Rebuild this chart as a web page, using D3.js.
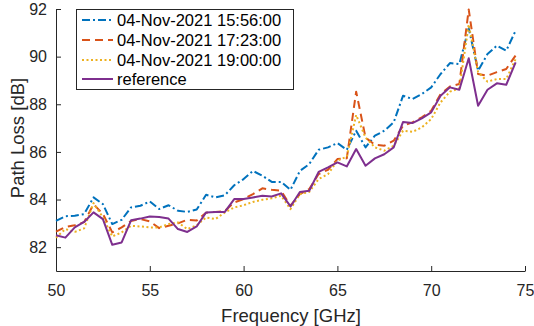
<!DOCTYPE html>
<html>
<head>
<meta charset="utf-8">
<script src="https://cdn.jsdelivr.net/npm/d3@7"></script>
<style>
  html, body { margin: 0; padding: 0; background: #fff; }
  svg { display: block; font-family: "Liberation Sans", Arial, Helvetica, sans-serif; }
</style>
</head>
<body>
<svg id="chart" width="534" height="326"></svg>
<script>
const freqGHz = [50, 50.5, 51, 51.5, 52, 52.5, 53, 53.5, 54, 54.5,
  55, 55.5, 56, 56.5, 57, 57.5, 58, 58.5, 59, 59.5,
  60, 60.5, 61, 61.5, 62, 62.5, 63, 63.5, 64, 64.5,
  65, 65.5, 66, 66.5, 67, 67.5, 68, 68.5, 69, 69.5,
  70, 70.5, 71, 71.5, 72, 72.5, 73, 73.5, 74, 74.5];

const seriesNames = ["04-Nov-2021 15:56:00", "04-Nov-2021 17:23:00", "04-Nov-2021 19:00:00", "reference"];

const loss1556 = [83.1, 83.3, 83.32, 83.39, 84.09, 83.81, 82.97, 83.15, 83.67, 83.74,
  83.92, 83.6, 83.76, 83.53, 83.48, 83.58, 84.2, 84.09, 84.18, 84.6,
  84.86, 85.2, 85.0, 84.74, 84.74, 84.41, 85.2, 85.49, 86.09, 86.19,
  86.37, 86.09, 86.89, 86.19, 86.68, 86.89, 87.24, 88.36, 88.22, 88.43,
  88.71, 89.27, 89.73, 89.69, 91.19, 89.41, 90.11, 90.46, 90.25, 91.09];

const loss1723 = [82.65, 82.85, 82.92, 83.05, 83.8, 83.4, 82.62, 82.83, 83.1, 83.18,
  83.08, 82.8, 82.9, 83.0, 83.15, 83.12, 83.45, 83.48, 83.52, 83.88,
  84.02, 84.23, 84.47, 84.41, 84.37, 83.74, 84.23, 84.44, 85.07, 85.25,
  85.7, 85.73, 88.53, 86.6, 86.3, 86.26, 86.47, 87.1, 87.24, 87.45,
  87.73, 88.43, 88.75, 88.85, 91.98, 89.27, 89.2, 89.35, 89.48, 90.05];

const loss1900 = [82.4, 82.76, 82.64, 82.79, 83.85, 83.25, 82.45, 82.62, 82.9, 82.87,
  82.83, 82.83, 82.97, 83.04, 82.76, 82.92, 83.25, 83.18, 83.46, 83.67,
  83.76, 83.9, 83.99, 84.05, 84.16, 83.6, 84.23, 84.32, 84.86, 85.07,
  85.63, 85.8, 87.55, 86.6, 86.19, 86.05, 86.26, 86.89, 86.84, 87.03,
  87.38, 88.08, 88.53, 88.67, 91.35, 89.35, 88.95, 89.06, 89.06, 89.9];

const lossRef = [82.5, 82.4, 82.83, 83.06, 83.46, 83.18, 82.1, 82.2, 83.13, 83.2,
  83.29, 83.27, 83.2, 82.76, 82.64, 82.87, 83.46, 83.48, 83.48, 84.02,
  84.02, 84.09, 84.16, 84.13, 84.26, 83.71, 84.32, 84.37, 85.16, 85.35,
  85.56, 85.39, 86.12, 85.42, 85.73, 85.9, 86.19, 87.26, 87.21, 87.41,
  87.66, 88.36, 88.71, 88.61, 89.93, 87.94, 88.61, 88.88, 88.82, 89.76];

const xTicks = [50, 55, 60, 65, 70, 75];
const yTicks = [82, 84, 86, 88, 90, 92];

const colors = ["#0072BD", "#D95319", "#EDB120", "#7E2F8E"];
const dashes = ["8,3,2,3", "8,5", "2,2.5", null];

const svg = d3.select("#chart");
const axisColor = "#262626";

const x = d3.scaleLinear().domain([50, 75]).range([56, 525]);
const y = d3.scaleLinear().domain([81, 92]).range([271, 9]);

// axes
const xAxis = svg.append("g")
  .attr("transform", "translate(0,271)")
  .call(d3.axisBottom(x).tickValues(xTicks).tickFormat(d3.format("d"))
    .tickSizeInner(-5).tickSizeOuter(0).tickPadding(14));
const yAxis = svg.append("g")
  .attr("transform", "translate(56,0)")
  .call(d3.axisLeft(y).tickValues(yTicks).tickFormat(d3.format("d"))
    .tickSizeInner(-5).tickSizeOuter(0).tickPadding(9));

[xAxis, yAxis].forEach(g => {
  g.select(".domain").attr("stroke", axisColor).attr("stroke-width", 1);
  g.selectAll(".tick line").attr("stroke", axisColor).attr("stroke-width", 1);
  g.selectAll(".tick text").attr("fill", axisColor)
    .style("font-size", "16px").style("font-family", "'Liberation Sans', Arial, sans-serif");
});

// axis labels
svg.append("text")
  .attr("x", 291).attr("y", 322)
  .attr("text-anchor", "middle")
  .attr("fill", axisColor)
  .style("font-size", "18.5px")
  .text("Frequency [GHz]");
svg.append("text")
  .attr("transform", "translate(24,138) rotate(-90)")
  .attr("text-anchor", "middle")
  .attr("fill", axisColor)
  .style("font-size", "18.5px")
  .text("Path Loss [dB]");

// lines
const allSeries = [loss1556, loss1723, loss1900, lossRef];
const line = d3.line()
  .x((d, i) => x(freqGHz[i]))
  .y(d => y(d));

allSeries.forEach((vals, k) => {
  const p = svg.append("path")
    .datum(vals)
    .attr("d", line)
    .attr("fill", "none")
    .attr("stroke", colors[k])
    .attr("stroke-width", 2)
    .attr("stroke-linejoin", "round");
  if (dashes[k]) p.attr("stroke-dasharray", dashes[k]);
});

// legend
const leg = svg.append("g");
leg.append("rect")
  .attr("x", 76.5).attr("y", 9.5)
  .attr("width", 217).attr("height", 80)
  .attr("fill", "#fff")
  .attr("stroke", axisColor)
  .attr("stroke-width", 1);
const rowY = [20, 40, 60, 79];
seriesNames.forEach((name, k) => {
  const l = leg.append("line")
    .attr("x1", 82).attr("x2", 113)
    .attr("y1", rowY[k]).attr("y2", rowY[k])
    .attr("stroke", colors[k]).attr("stroke-width", 2);
  if (dashes[k]) l.attr("stroke-dasharray", dashes[k]);
  leg.append("text")
    .attr("x", 117).attr("y", rowY[k])
    .attr("dy", "0.35em")
    .attr("fill", "#000")
    .style("font-size", "16.5px")
    .text(name);
});
</script>
</body>
</html>
